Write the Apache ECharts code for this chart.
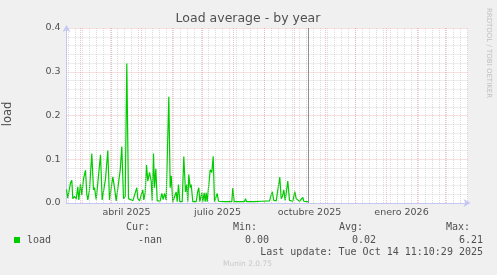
<!DOCTYPE html>
<html>
<head>
<meta charset="utf-8">
<script src="https://cdn.jsdelivr.net/npm/echarts@6/dist/echarts.min.js"></script>
<style>
html,body{margin:0;padding:0;background:#f0f0f0;}
#c{width:497px;height:275px;}
</style>
</head>
<body>
<div id="c"></div>
<script>
// Day offsets from 15 Feb 2025 (1 day per pixel in the original graph)
const loadDays = [0,1.3,3,4,5.3,6.3,8,9.7,11.3,12.3,14,15.3,17,19,20.3,21.3,23,25.3,27,28,29.7,31.3,34,35.7,37,39,41.3,43,44.7,46.3,48,49.7,51.3,53.7,55.3,57,58.7,60.3,62,63.7,66.3,68,70.3,71.3,73,74.7,76.3,77.3,78.7,80,81.3,83,84.7,85.7,87,88,89.3,90.7,92.3,93.7,95.3,96.7,98,99.7,102.3,103.7,104.7,106.3,108,109.7,110.7,112,113.3,115.7,117.3,119,120.3,121.3,122.3,123.7,124.7,126.3,128,129.7,131.3,132.3,133.3,135.3,136.3,137.7,138.7,139.7,140.7,142.3,143.7,145.3,146.7,148,149.7,150.7,152,158,165.3,166.3,167.7,173,178,179,180,188,195,203,205.7,207.3,209.7,211.3,213.3,214.7,216,217.3,218.7,220,221.3,223,224.7,226.3,228.3,229.7,231.3,233,234.7,236.3,237.3,239.7,242];
const loadValues = [0.031,0.011,0.010,0.046,0.052,0.010,0.015,0.009,0.037,0.007,0.044,0.018,0.055,0.075,0.020,0.007,0.030,0.113,0.030,0.035,0.008,0.008,0.110,0.007,0.003,0.055,0.120,0.007,0.005,0.060,0.035,0.005,0.005,0.075,0.129,0.010,0.015,0.319,0.010,0.007,0.005,0.007,0.035,0.010,0.005,0.005,0.030,0.007,0.023,0.087,0.050,0.070,0.050,0.005,0.113,0.035,0.078,0.005,0.005,0.005,0.022,0.008,0.022,0.007,0.243,0.035,0.062,0.003,0.003,0.025,0.003,0.042,0.003,0.003,0.106,0.025,0.042,0.003,0.065,0.035,0.042,0.003,0.004,0.003,0.027,0.035,0.003,0.023,0.003,0.023,0.003,0.023,0.003,0.003,0.076,0.070,0.107,0.003,0.003,0.022,0.004,0.003,0.003,0.034,0.003,0.003,0.003,0.010,0.003,0.003,0.004,0.005,0.026,0.006,0.005,0.006,0.059,0.010,0.015,0.030,0.006,0.006,0.050,0.006,0.004,0.004,0.026,0.010,0.012,0.004,0.004,0.013,0.004,0.003,0.003];

// Month starts (major grid), label positions (mid-month) and texts
const monthStartDays = [14,45,75,106,136,167,198,228,259,289,320,351,379];
const xLabelDays = [60,151,243,335];
const xLabelTexts = ['abril 2025','julio 2025','octubre 2025','enero 2026'];
const yTicks = [0,0.1,0.2,0.3,0.4];
const nowDay = 242;
const firstMonday = 2;

const weekDays = [];
for (let d = firstMonday; d <= 401; d += 7) weekDays.push(d);

const chart = echarts.init(document.getElementById('c'), null, {renderer:'canvas'});
const txt = '#505050';
const axisCol = '#c5c8f2';
const majorCol = 'rgba(232,150,150,0.6)';
const minorCol = 'rgba(200,200,200,0.65)';
function t(x, y, s, align, opts) {
  return {type:'text', x:x, y:y, silent:true, style:Object.assign({text:s, fill:txt, font:'10px "DejaVu Sans Mono"', align:align||'left', verticalAlign:'middle'}, opts||{})};
}
chart.setOption({
  animation:false,
  backgroundColor:'#f0f0f0',
  grid:{left:66.5, top:28, width:401, height:175, show:true, backgroundColor:'#ffffff', borderWidth:0},
  xAxis:{
    type:'value', min:0, max:401,
    axisLine:{show:true, lineStyle:{color:axisCol, width:1}, symbol:['none','arrow'], symbolSize:[6,7], symbolOffset:[0,3]},
    axisTick:{show:false},
    splitLine:{show:false},
    axisLabel:{customValues:xLabelDays, formatter:function(v){const i=xLabelDays.indexOf(v);return i>=0?xLabelTexts[i]:'';}, color:txt, fontFamily:'DejaVu Sans', fontSize:9.5, margin:5}
  },
  yAxis:{
    type:'value', min:0, max:0.4, interval:0.1,
    axisLine:{show:true, lineStyle:{color:axisCol, width:1}, symbol:['none','arrow'], symbolSize:[6,7], symbolOffset:[0,3]},
    axisTick:{show:false},
    axisLabel:{formatter:function(v){return v.toFixed(1);}, color:txt, fontFamily:'DejaVu Sans', fontSize:9.5, margin:6},
    splitLine:{show:true, lineStyle:{color:majorCol, type:[1,1], width:1}},
    minorTick:{show:false, splitNumber:5},
    minorSplitLine:{show:true, lineStyle:{color:minorCol, type:[1,1], width:1}}
  },
  series:[
    {type:'line', data:[[0,0]], symbol:'none', lineStyle:{opacity:0}, z:1, silent:true,
     markLine:{silent:true, symbol:['none','none'], label:{show:false}, animation:false,
       lineStyle:{color:minorCol, type:[1,1], width:1},
       data:weekDays.map(function(d){return {xAxis:d};})}},
    {type:'line', data:[[0,0]], symbol:'none', lineStyle:{opacity:0}, z:1, silent:true,
     markLine:{silent:true, symbol:['none','none'], label:{show:false}, animation:false,
       lineStyle:{color:majorCol, type:[1,1], width:1},
       data:monthStartDays.map(function(d){return {xAxis:d};})}},
    {type:'line', name:'load', data:loadDays.map(function(d,i){return [d, loadValues[i]];}), symbol:'none', z:3,
     lineStyle:{color:'#00cc00', width:1.2}, itemStyle:{color:'#00cc00'},
     markLine:{silent:true, symbol:['none','none'], label:{show:false}, animation:false,
       lineStyle:{color:'#909090', type:'solid', width:1}, data:[{xAxis:nowDay}]}}
  ],
  graphic:[
    t(248, 19, 'Load average - by year', 'center', {font:'12.5px "DejaVu Sans"', fill:'#505050'}),
    {type:'text', x:8, y:114, rotation:Math.PI/2, silent:true, style:{text:'load', fill:txt, font:'11.5px "DejaVu Sans"', align:'center', verticalAlign:'middle'}},
    {type:'text', x:488.5, y:53, rotation:-Math.PI/2, silent:true, style:{text:'RRDTOOL / TOBI OETIKER', fill:'#c0c0c0', font:'7px "DejaVu Sans"', align:'center', verticalAlign:'middle'}},
    {type:'rect', shape:{x:14, y:237, width:6, height:6}, style:{fill:'#00cc00'}, silent:true},
    t(150, 227, 'Cur:', 'right'),
    t(257, 227, 'Min:', 'right'),
    t(363, 227, 'Avg:', 'right'),
    t(470, 227, 'Max:', 'right'),
    t(27, 240, 'load', 'left'),
    t(162, 240, '-nan', 'right'),
    t(269, 240, '0.00', 'right'),
    t(376, 240, '0.02', 'right'),
    t(483, 240, '6.21', 'right'),
    t(483, 252, 'Last update: Tue Oct 14 11:10:29 2025', 'right'),
    t(247.5, 264, 'Munin 2.0.75', 'center', {font:'7.5px "DejaVu Sans"', fill:'#c8c8c8'})
  ]
});
</script>
</body>
</html>
